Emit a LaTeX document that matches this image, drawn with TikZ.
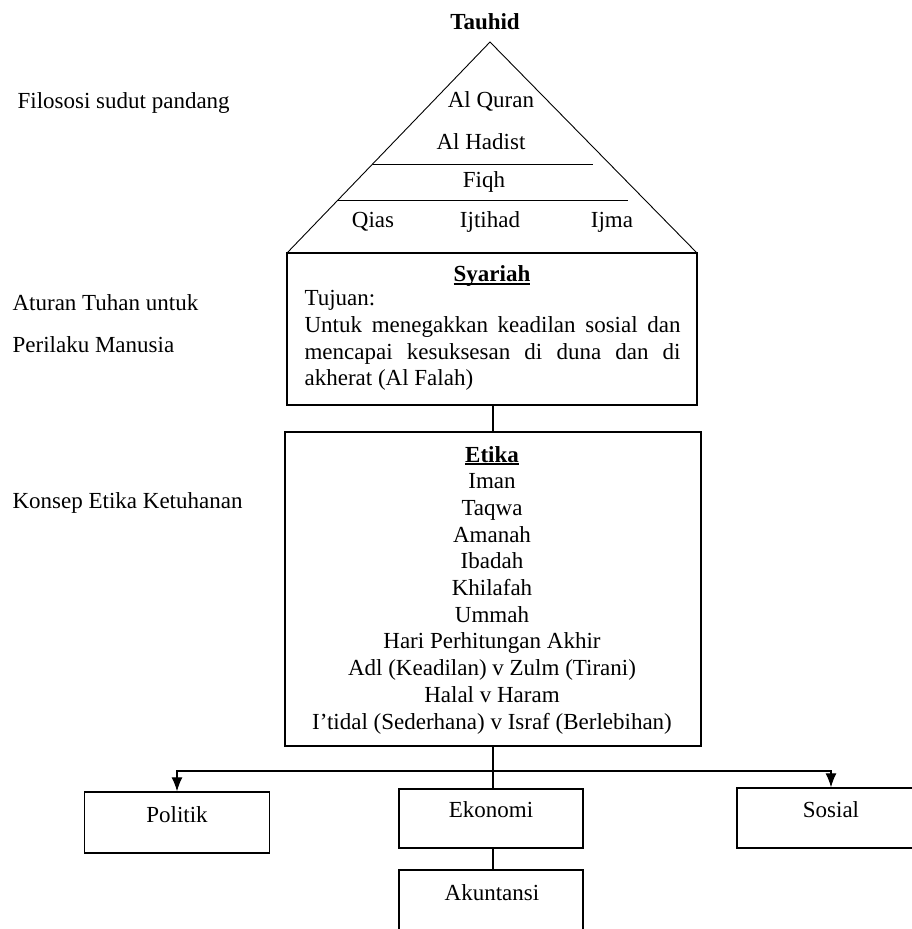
\documentclass[tikz,border=0pt]{standalone}
\usepackage{fontspec}
\setmainfont{Liberation Serif}
\usetikzlibrary{arrows.meta}
\newcommand{\thickul}[1]{\setbox0\hbox{#1}\leavevmode\rlap{\rule[-3pt]{\wd0}{1.8pt}}\box0}
\begin{document}
\begin{tikzpicture}[x=1pt,y=-1pt,
  font=\fontsize{23}{26.7}\selectfont,
  line width=1.2pt,
  box/.style={draw,rectangle,inner sep=0pt,line width=1.4pt},
  txt/.style={inner sep=0pt},
  lbl/.style={inner sep=0pt,anchor=west},
  thin/.style={line width=0.9pt},
  arr/.style={-{Latex[length=14pt,width=11pt]}}]
\useasboundingbox (0,0) rectangle (912,929);

% title
\node[txt,font=\fontsize{23}{26.7}\selectfont\bfseries] (tauhid) at (485,22) {Tauhid};

% triangle
\coordinate (apex) at (490,42);
\coordinate (bl) at (287,253);
\coordinate (br) at (697,253);
\draw[thin] (bl) -- (apex) -- (br);
\coordinate (l1a) at (373,164);
\coordinate (l1b) at (593,164);
\coordinate (l2a) at (338,200);
\coordinate (l2b) at (628,200);
\draw[thin] (l1a) -- (l1b);
\draw[thin] (l2a) -- (l2b);
\node[txt] (quran) at (491,101) {Al Quran};
\node[txt] (hadist) at (481,142) {Al Hadist};
\node[txt] (fiqh) at (484,182) {Fiqh};
\node[txt] (qias) at (373,222) {Qias};
\node[txt] (ijtihad) at (490,222) {Ijtihad};
\node[txt] (ijma) at (612,222) {Ijma};

% syariah box
\node[box,minimum width=410pt,minimum height=152pt] (syariah) at (492,329) {};
\node[txt] (syariahT) at (492,276) {\thickul{\textbf{Syariah}}};
\node[txt,anchor=north west,align=left] (tujuan) at (304,290)
  {Tujuan:\\
   \makebox[376pt][s]{Untuk menegakkan keadilan sosial dan}\\
   \makebox[376pt][s]{mencapai kesuksesan di duna dan di}\\
   akherat (Al Falah)};

% etika box
\node[box,minimum width=416pt,minimum height=314pt] (etika) at (493,589) {};
\node[txt,align=center] (etikaT) at (492,590)
  {\thickul{\textbf{Etika}}\\
   Iman\\Taqwa\\Amanah\\Ibadah\\Khilafah\\Ummah\\
   Hari Perhitungan Akhir\\
   Adl (Keadilan) v Zulm (Tirani)\\
   Halal v Haram\\
   I'tidal (Sederhana) v Israf (Berlebihan)};

\draw (syariah.south -| etika.north) -- (etika.north);

% left labels
\node[lbl] (filo) at (17,103) {Filososi sudut pandang};
\node[lbl] (aturan) at (12,303) {Aturan Tuhan untuk};
\node[lbl] (perilaku) at (12,345) {Perilaku Manusia};
\node[lbl] (konsep) at (12,503) {Konsep Etika Ketuhanan};

% bottom boxes
\node[box,minimum width=185pt,minimum height=61pt] (politik) at (177,822.5) {};
\node[txt] (politikT) at (177,815) {Politik};
\node[box,minimum width=184pt,minimum height=59pt] (ekonomi) at (491,818.5) {};
\node[txt] (ekonomiT) at (491,810) {Ekonomi};
\node[box,minimum width=188pt,minimum height=60pt] (sosial) at (831,818) {};
\node[txt] (sosialT) at (831,810) {Sosial};
\coordinate (akTL) at (399,870);
\coordinate (akTR) at (583,870);
\coordinate (akBL) at (399,935);
\coordinate (akBR) at (583,935);
\draw[line width=1.4pt] (akBL) -- (akTL) -- (akTR) -- (akBR);
\node[txt] (akuntansi) at (492,893) {Akuntansi};

% connectors
\coordinate (junc) at (493,771);
\draw (etika.south -| junc) -- (junc |- ekonomi.north);
\draw[arr] (junc) -| (politik.north);
\draw[arr] (junc) -| (sosial.north);
\draw (junc |- ekonomi.south) -- (junc |- akTL);
\end{tikzpicture}
\end{document}
